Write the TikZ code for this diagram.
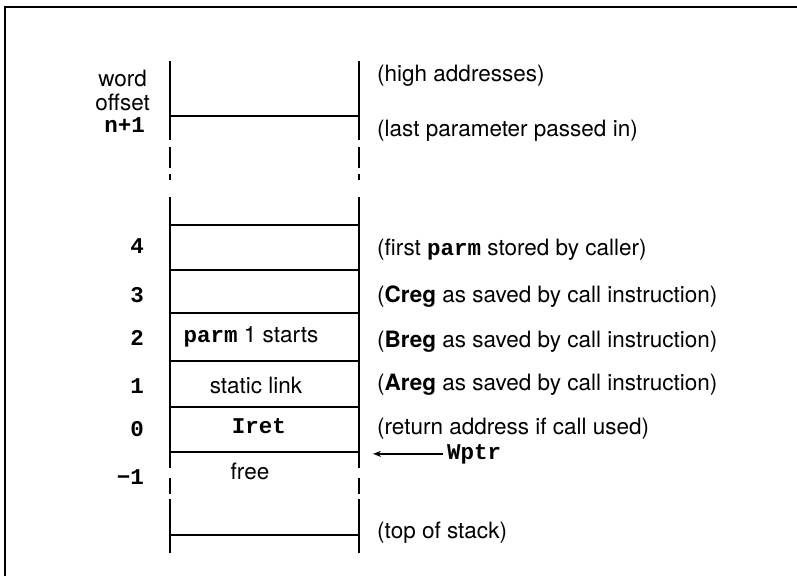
\documentclass[tikz,border=0pt]{standalone}
\usepackage{fontspec}
\setmainfont{TeX Gyre Heros}
\setsansfont{TeX Gyre Heros}
\setmonofont{Liberation Mono}
\usetikzlibrary{arrows.meta}

\begin{document}
\begin{tikzpicture}[x=1pt,y=-1pt,
  every node/.style={inner sep=0pt, font=\fontsize{22.5}{27}\selectfont},
  lbl/.style={anchor=base west},
  off/.style={anchor=base east},
  offnum/.style={anchor=base east, font=\fontsize{22.5}{27}\selectfont\ttfamily\bfseries},
  cell/.style={anchor=base},
  frame/.style={line width=2pt},
  wall/.style={line width=2pt},
  rule/.style={line width=1.7pt},
  ptr/.style={line width=1.5pt, -{Stealth[length=8pt,width=6pt]}},
]
\useasboundingbox (0,0) rectangle (797,576);

% outer frame
\draw[frame] (5,576) -- (5,7) -- (797,7);

% stack walls, broken where the stack continues
\foreach \xx in {170,359}{
  \draw[wall] (\xx,61) -- (\xx,140);
  \draw[wall] (\xx,147) -- (\xx,168);
  \draw[wall] (\xx,174) -- (\xx,180);
  \draw[wall] (\xx,197) -- (\xx,468);
  \draw[wall] (\xx,478) -- (\xx,494);
  \draw[wall] (\xx,499) -- (\xx,553);
}

% word boundaries
\foreach \yy in {116,225,270,313,361,407,452,535}{
  \draw[rule] (170,\yy) -- (359,\yy);
}

% word offsets
\node[off] (word) at (147,86) {word};
\node[off] (offset) at (150,110) {offset};
\node[offnum] (onp) at (145,132) {n+1};
\node[offnum] (o4) at (144,253) {4};
\node[offnum] (o3) at (144,302) {3};
\node[offnum] (o2) at (144,345) {2};
\node[offnum] (o1) at (144,393) {1};
\node[offnum] (o0) at (144,436) {0};
\node[offnum] (om1) at (144,484) {−1};

% contents of the frame words
\node[cell] (c2) at (251,342) {\texttt{\bfseries parm} 1 starts};
\node[cell] (c1) at (256,393) {static link};
\node[cell] (c0) at (259,433) {\texttt{\bfseries Iret}};
\node[cell] (cm1) at (250,479) {free};

% descriptions
\node[lbl] (hi) at (377,81) {(high addresses)};
\node[lbl] (last) at (377,136) {(last parameter passed in)};
\node[lbl] (first) at (377,255) {(first \texttt{\bfseries parm} stored by caller)};
\node[lbl] (creg) at (377,302) {(\textbf{Creg} as saved by call instruction)};
\node[lbl] (breg) at (377,347) {(\textbf{Breg} as saved by call instruction)};
\node[lbl] (areg) at (377,390) {(\textbf{Areg} as saved by call instruction)};
\node[lbl] (ret) at (377,434) {(return address if call used)};
\node[lbl] (tos) at (377,538) {(top of stack)};

% workspace pointer
\node[lbl, font=\fontsize{22.5}{27}\selectfont\ttfamily\bfseries] (wptr) at (447,459) {Wptr};
\coordinate (wtip) at (373,454);
\draw[ptr] ([xshift=-4pt]wptr.west) -- (wptr.west -| wtip);
\end{tikzpicture}
\end{document}
